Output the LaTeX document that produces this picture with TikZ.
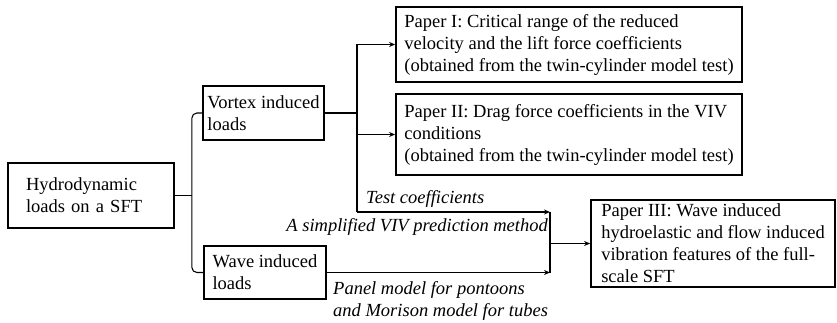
\documentclass[tikz,border=0pt]{standalone}
\usepackage{fontspec}
\setmainfont{Liberation Serif}
\usetikzlibrary{positioning,calc,arrows.meta}
\tikzset{
  loadbox/.style={rectangle, draw=black, line width=1.8pt, align=left, inner xsep=0pt, inner ysep=0pt, font=\fontsize{18.5}{22}\selectfont},
  flow/.style={draw=black, line width=1.1pt},
  flowarr/.style={flow, -{Stealth[length=6pt,width=5pt]}},
  note/.style={inner sep=0pt, align=left, font=\fontsize{18.5}{22.5}\selectfont\itshape}
}

\begin{document}
\begin{tikzpicture}[x=1pt,y=-1pt]
  \useasboundingbox (0,0) rectangle (837,323);
  % boxes
  \node[loadbox, minimum width=166, minimum height=65, text width=130] (hydro) at (91,195.5) {Hydrodynamic\\loads on a SFT};
  \node[loadbox, minimum width=121, minimum height=54] (vortex) at (263.5,113) {Vortex induced\\loads};
  \node[loadbox, minimum width=122, minimum height=53] (wave) at (265,272.5) {Wave induced\\loads};
  \node[loadbox, minimum width=346, minimum height=75] (paper1) at (569,44.5) {Paper I: Critical range of the reduced\\velocity and the lift force coefficients\\(obtained from the twin-cylinder model test)};
  \node[loadbox, minimum width=346, minimum height=81] (paper2) at (569,134.5) {Paper II: Drag force coefficients in the VIV\\conditions\\(obtained from the twin-cylinder model test)};
  \node[loadbox, minimum width=244, minimum height=87] (paper3) at (713,243.5) {Paper III: Wave induced\\hydroelastic and flow induced\\vibration features of the full-\\scale SFT};

  % brace to the two load types
  \coordinate (hj) at ($(hydro.east)+(17,0)$);
  \draw[flow] (hydro.east) -- (hj);
  \draw[flow, rounded corners=5pt] (hj) |- (vortex.west);
  \draw[flow, rounded corners=5pt] (hj) |- (wave.west);

  % vortex branch
  \coordinate (vbar) at (357,212);
  \coordinate (mbar) at (550,212);
  \draw[flow] (vortex.east) -- (vortex.east -| vbar);
  \draw[flow] (paper1.west -| vbar) -- (vbar);
  \draw[flowarr] (paper1.west -| vbar) -- (paper1.west);
  \draw[flowarr] (paper2.west -| vbar) -- (paper2.west);
  \draw[flowarr] (vbar) -- (mbar);

  % wave branch and merge
  \draw[flowarr] (wave.east) -- (wave.east -| mbar);
  \draw[flow] (mbar) -- (wave.east -| mbar);
  \draw[flowarr] (paper3.west -| mbar) -- (paper3.west);

  % labels
  \node[note, anchor=base west] (testlbl) at (366,204) {Test coefficients};
  \node[note, anchor=base east] (vivlbl) at (548,231) {A simplified VIV prediction method};
  \node[note, anchor=north west] (panellbl) at (333,281) {Panel model for pontoons\\and Morison model for tubes};
\end{tikzpicture}
\end{document}
